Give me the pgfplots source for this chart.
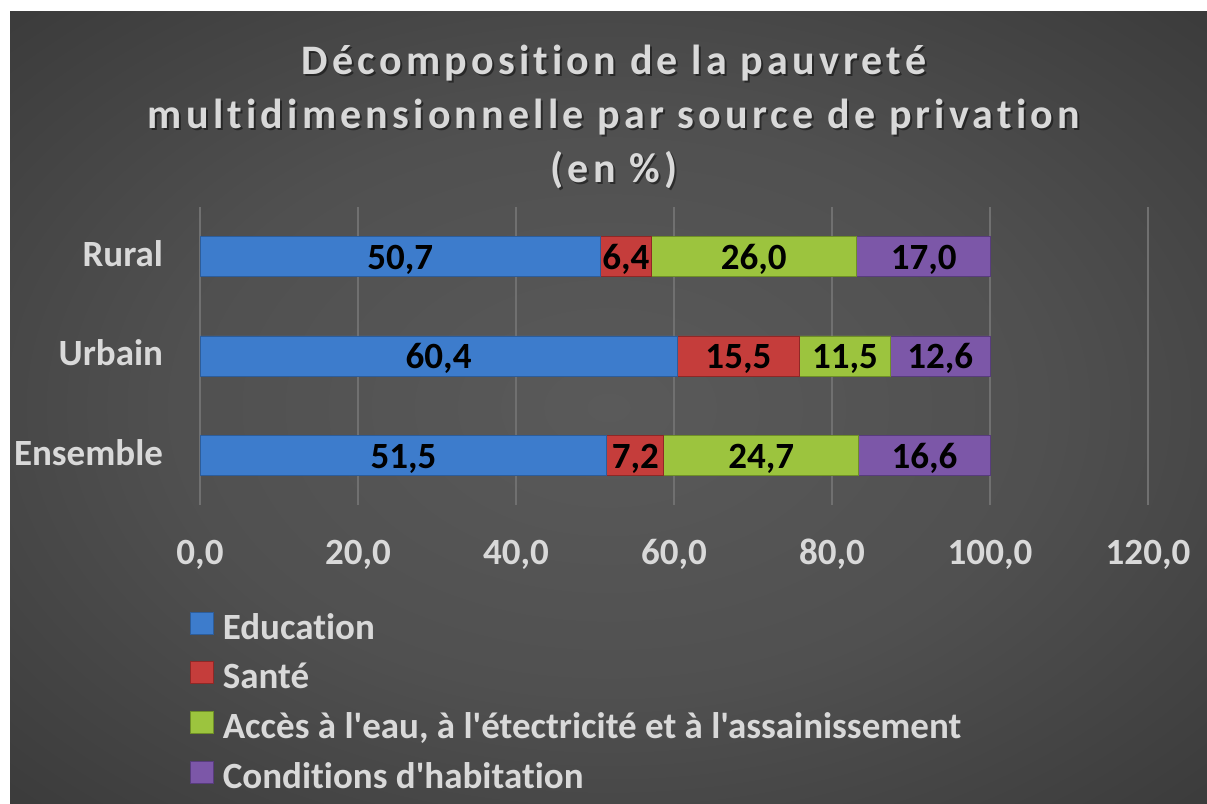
\documentclass[border=0pt]{standalone}
\usepackage{fontspec}
\setmainfont{Carlito}[Ligatures=NoCommon]
\newfontfamily\cf{Carlito}[Ligatures=NoCommon]
\newfontfamily\titlefont{Carlito}[LetterSpace=10, Ligatures=NoCommon]
\usepackage{pgfplots}
\pgfplotsset{compat=1.18}

\definecolor{bgA}{HTML}{5A5A5A}
\definecolor{bgB}{HTML}{505050}
\definecolor{bgC}{HTML}{2A2A2A}
\definecolor{lab}{HTML}{D9D9D9}
\definecolor{gridc}{HTML}{707070}
\definecolor{axc}{HTML}{A6A6A6}

\definecolor{eduB}{HTML}{3D7CCC}
\definecolor{eduL}{HTML}{72AEF2}
\definecolor{eduD}{HTML}{2D5D9A}
\definecolor{sanB}{HTML}{C53D3B}
\definecolor{sanL}{HTML}{E86863}
\definecolor{sanD}{HTML}{8F2826}
\definecolor{eauB}{HTML}{9CC43E}
\definecolor{eauL}{HTML}{C8E872}
\definecolor{eauD}{HTML}{6F8F27}
\definecolor{habB}{HTML}{7C57A8}
\definecolor{habL}{HTML}{A685D2}
\definecolor{habD}{HTML}{583C7D}

\pgfdeclareradialshading{bgshade}{\pgfpoint{0bp}{0bp}}{color(0bp)=(bgA); color(18bp)=(bgB); color(50bp)=(bgC); color(60bp)=(bgC)}
\pgfdeclareverticalshading{edushade}{100bp}{color(0bp)=(eduD); color(10bp)=(eduB); color(76bp)=(eduB); color(100bp)=(eduL)}
\pgfdeclareverticalshading{sanshade}{100bp}{color(0bp)=(sanD); color(10bp)=(sanB); color(76bp)=(sanB); color(100bp)=(sanL)}
\pgfdeclareverticalshading{eaushade}{100bp}{color(0bp)=(eauD); color(10bp)=(eauB); color(76bp)=(eauB); color(100bp)=(eauL)}
\pgfdeclareverticalshading{habshade}{100bp}{color(0bp)=(habD); color(10bp)=(habB); color(76bp)=(habB); color(100bp)=(habL)}

\newcommand{\bigfont}{\cf\bfseries\fontsize{37}{43}\selectfont}

\begin{document}
\begin{tikzpicture}
\fill[white] (0,0) rectangle (1207pt,803pt);
\useasboundingbox (0,0) rectangle (1207pt,803pt);
\shade[shading=bgshade] (10pt,0) rectangle (1207pt,791pt);

% title
\foreach \yy/\tt in {728/{Décomposition de la pauvreté},674/{multidimensionnelle par source de privation},620/{(en \%)}}{
  \node[anchor=base, text=black, opacity=0.45, font=\titlefont\bfseries\fontsize{42}{50}\selectfont] at (616pt,\yy pt-2pt) {\tt};
  \node[anchor=base, text=lab, font=\titlefont\bfseries\fontsize{42}{50}\selectfont] at (614pt,\yy pt) {\tt};
}

\begin{axis}[
  at={(200pt,298pt)}, anchor=south west,
  scale only axis, width=948pt, height=298pt,
  xbar stacked, bar width=40pt,
  xmin=0, xmax=120, ymin=-0.5, ymax=2.5,
  ytick={0,1,2}, yticklabels={Ensemble,Urbain,Rural},
  xtick={0,20,40,60,80,100,120},
  xticklabels={{0,0},{20,0},{40,0},{60,0},{80,0},{100,0},{120,0}},
  extra x ticks={0}, extra x tick labels={},
  extra x tick style={grid style={color=axc, line width=2.5pt}},
  major tick length=0pt,
  xmajorgrids, major grid style={color=gridc, line width=1.3pt},
  axis line style={draw=none},
  every tick label/.append style={inner sep=0pt, outer sep=0pt},
  xticklabel style={font=\bigfont, text=lab, anchor=base, yshift=-59pt},
  yticklabel style={font=\bigfont, text=lab, anchor=base east, xshift=-37pt, yshift=-10pt},
  legend cell align=left,
  legend image code/.code={\draw[#1] (0pt,-4pt) rectangle (23pt,18pt);},
  legend style={at={(axis description cs:-0.01055,-0.3585)}, anchor=north west,
    draw=none, fill=none, inner sep=0pt, outer sep=0pt,
    font=\bigfont, text=lab, row sep=14.2pt,
    nodes={inner sep=0pt, text height=26pt, text depth=8pt},
    /tikz/every odd column/.append style={column sep=9pt}},
]
\addplot[shading=edushade, draw=eduD, line width=0.8pt] coordinates {(51.5,0) (60.4,1) (50.7,2)};
\addplot[shading=sanshade, draw=sanD, line width=0.8pt] coordinates {(7.2,0) (15.5,1) (6.4,2)};
\addplot[shading=eaushade, draw=eauD, line width=0.8pt] coordinates {(24.7,0) (11.5,1) (26.0,2)};
\addplot[shading=habshade, draw=habD, line width=0.8pt] coordinates {(16.6,0) (12.6,1) (17.0,2)};
\legend{Education, Santé, {Accès à l'eau, à l'étectricité et à l'assainissement}, Conditions d'habitation}
\end{axis}

\begin{axis}[
  at={(200pt,298pt)}, anchor=south west,
  scale only axis, width=948pt, height=298pt,
  xmin=0, xmax=120, ymin=-0.5, ymax=2.5, hide axis,
]
\addplot[draw=none, mark=none, nodes near coords, point meta=explicit symbolic,
  nodes near coords style={font=\bigfont, text=black, anchor=base, yshift=-13pt, inner sep=0pt}]
  table[meta=lab] {
x y lab
25.75 0 51,5
55.1 0 7,2
71.05 0 24,7
91.7 0 16,6
30.2 1 60,4
68.15 1 15,5
81.65 1 11,5
93.7 1 12,6
25.35 2 50,7
53.9 2 6,4
70.1 2 26,0
91.6 2 17,0
};
\end{axis}
\end{tikzpicture}
\end{document}
